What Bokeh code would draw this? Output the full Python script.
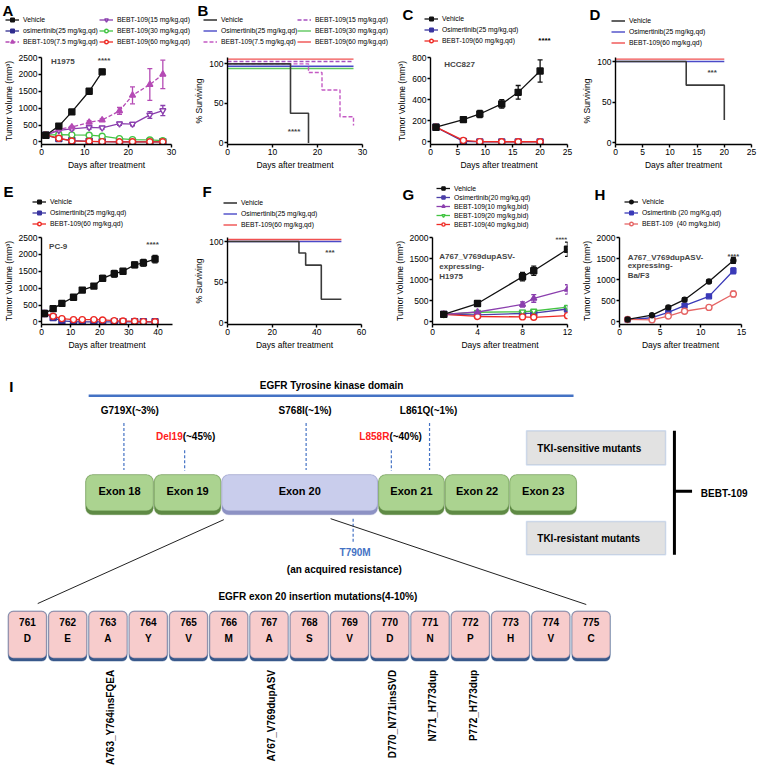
import math
from bokeh.plotting import figure
from bokeh.models import (Range1d, Legend, LegendItem, Whisker, TeeHead,
                          ColumnDataSource, Label, BoxAnnotation, FixedTicker)
from bokeh.layouts import column, row
from bokeh.embed import file_html
from bokeh.resources import INLINE
from bokeh.core.properties import value

FONT = "Liberation Sans"

# ---------------- data ----------------
# Panel A (H1975 tumor volume)
a_days = [1, 4, 7, 11, 14, 18, 21, 25, 28]
a_veh_days = [1, 4, 7, 11, 14]
a_veh = [200, 470, 890, 1500, 2075]
a_veh_err = [0, 30, 40, 80, 70]
a_osi = [200, 100, 40, 20, 10, 5, 5, 5, 5]
a_b75 = [200, 380, 440, 580, 650, 920, 1380, 1700, 2000]
a_b75_err = [0, 20, 30, 40, 30, 100, 250, 470, 420]
a_b15 = [200, 340, 390, 430, 420, 540, 530, 800, 930]
a_b15_err = [0, 30, 40, 50, 40, 50, 50, 100, 150]
a_b30 = [200, 220, 210, 200, 170, 100, 70, 60, 40]
a_b60 = [200, 110, 30, 20, 10, 5, 5, 5, 5]

# Panel B (H1975 survival)
b_veh_t = [0, 14, 18];              b_veh_s = [100, 37.5, 0]
b_osi_t = [0, 28];                  b_osi_s = [97, 97]
b_b75_t = [0, 18, 21, 25, 28];      b_b75_s = [100, 89, 67, 33, 22]
b_b15_t = [0, 28];                  b_b15_s = [103, 103]
b_b30_t = [0, 28];                  b_b30_s = [94, 94]
b_b60_t = [0, 28];                  b_b60_s = [106, 106]

# Panel C (HCC827)
c_days = [1, 6, 9, 13, 16, 20]
c_veh = [140, 212, 265, 360, 470, 672]
c_veh_err = [0, 20, 35, 40, 65, 105]
c_osi = [140, 5, 0, 0, 0, 0]
c_b60 = [140, 15, 3, 2, 2, 2]

# Panel D (HCC827 survival)
d_veh_t = [0, 13, 20];  d_veh_s = [100, 71, 28]
d_osi_t = [0, 20];      d_osi_s = [100, 100]
d_b60_t = [0, 20];      d_b60_s = [103, 103]

# Panel E (PC-9)
e_days = [1, 4, 7, 11, 14, 18, 21, 25, 28, 32, 35, 39]
e_veh = [250, 394, 549, 733, 943, 1062, 1291, 1428, 1500, 1690, 1750, 1860]
e_veh_err = [0, 40, 40, 40, 60, 50, 90, 100, 80, 80, 100, 110]
e_osi = [250, 130, 30, 10, 5, 5, 5, 5, 5, 5, 5, 5]
e_b60 = [250, 170, 100, 70, 70, 70, 60, 40, 30, 20, 10, 5]

# Panel F (PC-9 survival)
f_veh_t = [0, 32, 35, 42, 51];  f_veh_s = [100, 86, 71, 29, 29]
f_osi_t = [0, 51];              f_osi_s = [100, 100]
f_b60_t = [0, 51];              f_b60_s = [102.5, 102.5]

# Panel G (A767_V769dupASV H1975)
g_days = [1, 4, 8, 9, 12]
g_veh = [180, 436, 1071, 1214, 1721]
g_veh_err = [0, 25, 100, 110, 170]
g_osi = [180, 170, 200, 210, 307]
g_b10 = [180, 236, 414, 557, 771]
g_b10_err = [0, 20, 60, 90, 110]
g_b20 = [180, 230, 240, 260, 350]
g_b40 = [180, 130, 120, 110, 150]

# Panel H (A767_V769dupASV Ba/F3)
h_days = [1, 4, 6, 8, 11, 14]
h_veh = [60, 160, 345, 528, 958, 1458]
h_veh_err = [0, 20, 30, 40, 40, 70]
h_osi = [55, 100, 225, 387, 606, 1211]
h_osi_err = [0, 10, 20, 20, 20, 70]
h_b40 = [60, 50, 141, 254, 345, 662]
h_b40_err = [0, 10, 20, 20, 20, 70]

# Panel I (diagram labels)
exon_names = ["Exon 18", "Exon 19", "Exon 20", "Exon 21", "Exon 22", "Exon 23"]
top_mutations = ["G719X(~3%)", "S768I(~1%)", "L861Q(~1%)"]
main_mutations = ["Del19", "L858R"]
main_freq = ["(~45%)", "(~40%)"]
residue_numbers = [str(n) for n in range(761, 776)]
residue_letters = list("DEAYVMASVDNPHVC")
insertions = ["A763_Y764insFQEA", "A767_V769dupASV", "D770_N771insSVD",
              "N771_H773dup", "P772_H773dup"]
insertion_residue = [763, 767, 770, 771, 772]

# ---------------- helpers ----------------
HDR = 47
CH = 182 - HDR
COLX = [0, 191, 382, 573]


def make_header():
    hd = figure(width=766, height=HDR, x_range=Range1d(0, 766), y_range=Range1d(0, HDR),
                output_backend="svg", toolbar_location=None, min_border=0,
                x_axis_location=None, y_axis_location=None)
    hd.grid.visible = False
    hd.outline_line_color = None
    return hd


def make_fig(w, xr, yr, left, right, top, bottom):
    p = figure(width=w, height=CH, x_range=Range1d(*xr), y_range=Range1d(*yr),
               output_backend="svg", toolbar_location=None,
               min_border_left=left, min_border_right=right,
               min_border_top=top, min_border_bottom=bottom)
    p.grid.visible = False
    p.outline_line_color = None
    return p


def style(p, xt, yt, xlabel, ylabel):
    p.xaxis.ticker = FixedTicker(ticks=xt)
    p.yaxis.ticker = FixedTicker(ticks=yt)
    p.xaxis.axis_label = xlabel
    p.yaxis.axis_label = ylabel
    for ax in p.xaxis + p.yaxis:
        ax.axis_line_width = 1.4
        ax.axis_line_color = "black"
        ax.major_tick_line_width = 1.4
        ax.major_tick_line_color = "black"
        ax.major_tick_out = 3
        ax.major_tick_in = 0
        ax.minor_tick_line_color = None
        ax.major_label_text_font = FONT
        ax.major_label_text_font_size = "8.5px"
        ax.major_label_text_color = "black"
        ax.axis_label_text_font = FONT
        ax.axis_label_text_font_size = "8.5px"
        ax.axis_label_text_font_style = "normal"
        ax.axis_label_text_color = "black"
        ax.major_label_standoff = 1
        ax.axis_label_standoff = 2


def series(p, hd, x, y, color, marker, filled, dash="solid", err=None, size=6):
    kw_l = dict(line_color=color, line_width=1.3, line_dash=dash)
    kw_m = dict(marker=marker, size=size, line_color=color,
                fill_color=color if filled else "white", line_width=1.4)
    p.line(x, y, **kw_l)
    p.scatter(x, y, **kw_m)
    if err is not None:
        xs = [a for a, e in zip(x, err) if e > 0]
        lo = [b - e for b, e in zip(y, err) if e > 0]
        hi = [b + e for b, e in zip(y, err) if e > 0]
        src = ColumnDataSource(dict(x=xs, lo=lo, hi=hi))
        p.add_layout(Whisker(source=src, base="x", lower="lo", upper="hi",
                             line_color=color, line_width=1.3,
                             upper_head=TeeHead(size=5, line_color=color, line_width=1.3),
                             lower_head=TeeHead(size=5, line_color=color, line_width=1.3)))
    # legend proxies (kept outside the header's visible range)
    return [hd.line([-99, -98], [-99, -98], **kw_l), hd.scatter([-99], [-99], **kw_m)]


def surv(p, hd, t, s, color, dash="solid", width=1.4):
    kw = dict(line_color=color, line_width=width, line_dash=dash)
    p.step(t, s, mode="after", **kw)
    return [hd.line([-99, -98], [-99, -98], **kw)]


def legend(hd, items, cx, cb, font="6.8px", gh=9, sp=2):
    lg = Legend(items=[LegendItem(label=l, renderers=r) for l, r in items],
                location=(cx, HDR - cb),
                glyph_width=14, glyph_height=gh, label_height=gh,
                label_standoff=4, spacing=sp, padding=0, margin=0,
                border_line_color=None, background_fill_alpha=0,
                label_text_font=FONT, label_text_font_size=font,
                label_text_color="black")
    hd.add_layout(lg)


def htext(hd, cx, cy, text, size="15px", align="left", baseline="top"):
    hd.text(x=[cx], y=[HDR - cy], text=[text], text_font=value(FONT),
            text_font_size=size, text_font_style="bold", text_align=align,
            text_baseline=baseline, text_color="black")


def note(p, x, y, text, size="8px", bold=True, align="left"):
    p.add_layout(Label(x=x, y=y, text=text, text_font=FONT, text_font_size=size,
                       text_font_style="bold" if bold else "normal",
                       text_align=align, text_baseline="middle"))


BLACK = "#111111"
NAVY = "#2f2c8e"
MAG = "#b54bb5"
PURP = "#8b3fae"
GREEN = "#43c443"
RED = "#ee2a24"
TV = "Tumor Volume (mm\u00b3)"
DAYS = "Days after treatment"

h1 = make_header()
h2 = make_header()

# ---------------- Panel A ----------------
ox = COLX[0]
pA = make_fig(191, (0, 30), (-75, 2500), 35, 20, 10, 36)
style(pA, [0, 10, 20, 30], [0, 500, 1000, 1500, 2000, 2500], DAYS, TV)
rA_osi = series(pA, h1, a_days, a_osi, NAVY, "square", True)
rA_b30 = series(pA, h1, a_days, a_b30, GREEN, "circle", False)
rA_b60 = series(pA, h1, a_days, a_b60, RED, "circle", False)
rA_b15 = series(pA, h1, a_days, a_b15, PURP, "inverted_triangle", False, err=a_b15_err)
rA_b75 = series(pA, h1, a_days, a_b75, MAG, "triangle", True, dash="4 2", err=a_b75_err)
rA_veh = series(pA, h1, a_veh_days, a_veh, BLACK, "square", True, err=a_veh_err)
legend(h1, [("Vehicle", rA_veh), ("osimertinib(25 mg/kg,qd)", rA_osi),
            ("BEBT-109(7.5 mg/kg,qd)", rA_b75)], ox + 5, 46)
legend(h1, [("BEBT-109(15 mg/kg,qd)", rA_b15), ("BEBT-109(30 mg/kg,qd)", rA_b30),
            ("BEBT-109(60 mg/kg,qd)", rA_b60)], ox + 99, 46)
htext(h1, ox + 2, 1, "A")
note(pA, 2.2, 2390, "H1975")
note(pA, 13, 2400, "****")

# ---------------- Panel B ----------------
ox = COLX[1]
pB = make_fig(191, (0, 30), (-2, 108), 35, 20, 10, 36)
style(pB, [0, 10, 20, 30], [0, 50, 100], DAYS, "% Surviving")
rB_b30 = surv(pB, h1, b_b30_t, b_b30_s, "#5ec85e")
rB_osi = surv(pB, h1, b_osi_t, b_osi_s, "#4a4ac8")
rB_b15 = surv(pB, h1, b_b15_t, b_b15_s, "#a64fc0", dash="4 2")
rB_b60 = surv(pB, h1, b_b60_t, b_b60_s, "#f05050")
rB_b75 = surv(pB, h1, b_b75_t, b_b75_s, "#c45ac4", dash="4 2")
rB_veh = surv(pB, h1, b_veh_t, b_veh_s, "#3a3a3a", width=1.6)
legend(h1, [("Vehicle", rB_veh), ("Osimertinib(25 mg/kg,qd)", rB_osi),
            ("BEBT-109(7.5 mg/kg,qd)", rB_b75)], ox + 12, 46)
legend(h1, [("BEBT-109(15 mg/kg,qd)", rB_b15), ("BEBT-109(30 mg/kg,qd)", rB_b30),
            ("BEBT-109(60 mg/kg,qd)", rB_b60)], ox + 106, 46)
htext(h1, ox + 6, 1, "B")
note(pB, 13.4, 14, "****")

# ---------------- Panel C ----------------
ox = COLX[2]
pC = make_fig(191, (0, 25), (-24, 800), 48, 6, 6, 38)
style(pC, [0, 5, 10, 15, 20, 25], [0, 200, 400, 600, 800], DAYS, TV)
rC_osi = series(pC, h1, c_days, c_osi, "#3a35a0", "square", True)
rC_b60 = series(pC, h1, c_days, c_b60, RED, "circle", False)
rC_veh = series(pC, h1, c_days, c_veh, BLACK, "square", True, err=c_veh_err)
legend(h1, [("Vehicle", rC_veh), ("Osimertinib(25 mg/kg,qd)", rC_osi),
            ("BEBT-109(60 mg/kg,qd)", rC_b60)], ox + 42, 45)
htext(h1, ox + 20, 5, "C")
htext(h1, ox + 162, 40, "****", size="8px", align="center", baseline="middle")
note(pC, 2.5, 730, "HCC827")

# ---------------- Panel D ----------------
ox = COLX[3]
pD = make_fig(193, (0, 25), (-2, 105), 42, 15, 10, 37)
style(pD, [0, 5, 10, 15, 20, 25], [0, 50, 100], DAYS, "% Surviving")
rD_osi = surv(pD, h1, d_osi_t, d_osi_s, "#4a4ac8")
rD_b60 = surv(pD, h1, d_b60_t, d_b60_s, "#f05050")
rD_veh = surv(pD, h1, d_veh_t, d_veh_s, "#3a3a3a", width=1.6)
legend(h1, [("Vehicle", rD_veh), ("Osimertinib(25 mg/kg,qd)", rD_osi),
            ("BEBT-109(60 mg/kg,qd)", rD_b60)], ox + 38, 47)
htext(h1, ox + 16, 5, "D")
note(pD, 16.9, 86, "***")

# ---------------- Panel E ----------------
ox = COLX[0]
pE = make_fig(191, (0, 45), (-75, 2500), 36, 19, 5, 40)
style(pE, [0, 10, 20, 30, 40], [0, 500, 1000, 1500, 2000, 2500], DAYS, TV)
rE_osi = series(pE, h2, e_days, e_osi, "#3a35a0", "square", True)
rE_b60 = series(pE, h2, e_days, e_b60, RED, "circle", False)
rE_veh = series(pE, h2, e_days, e_veh, BLACK, "square", True, err=e_veh_err)
legend(h2, [("Vehicle", rE_veh), ("Osimertinib(25 mg/kg,qd)", rE_osi),
            ("BEBT-109(60 mg/kg,qd)", rE_b60)], ox + 32, 46)
htext(h2, ox + 3, 0, "E")
note(pE, 2.6, 2220, "PC-9")
note(pE, 36, 2300, "****")

# ---------------- Panel F ----------------
ox = COLX[1]
pF = make_fig(191, (0, 60), (-2, 105), 36, 21, 8, 40)
style(pF, [0, 20, 40, 60], [0, 50, 100], DAYS, "% Surviving")
rF_osi = surv(pF, h2, f_osi_t, f_osi_s, "#4a4ac8")
rF_b60 = surv(pF, h2, f_b60_t, f_b60_s, "#f05050")
rF_veh = surv(pF, h2, f_veh_t, f_veh_s, "#3a3a3a", width=1.6)
legend(h2, [("Vehicle", rF_veh), ("Osimertinib(25 mg/kg,qd)", rF_osi),
            ("BEBT-109(60 mg/kg,qd)", rF_b60)], ox + 32, 47)
htext(h2, ox + 11, 0, "F")
note(pF, 43.8, 86, "***")

# ---------------- Panel G ----------------
ox = COLX[2]
pG = make_fig(191, (0, 12), (-60, 2000), 50, 6, 5, 40)
style(pG, [0, 4, 8, 12], [0, 500, 1000, 1500, 2000], DAYS, TV)
rG_osi = series(pG, h2, g_days, g_osi, "#4b3fa8", "square", True)
rG_b20 = series(pG, h2, g_days, g_b20, GREEN, "inverted_triangle", False)
rG_b40 = series(pG, h2, g_days, g_b40, RED, "circle", False)
rG_b10 = series(pG, h2, g_days, g_b10, PURP, "triangle", True, err=g_b10_err)
rG_veh = series(pG, h2, g_days, g_veh, BLACK, "square", True, err=g_veh_err)
legend(h2, [("Vehicle", rG_veh), ("Osimertinib(20 mg/kg,qd)", rG_osi),
            ("BEBT-109(10 mg/kg,bid)", rG_b10), ("BEBT-109(20 mg/kg,bid)", rG_b20),
            ("BEBT-109(40 mg/kg,bid)", rG_b40)], ox + 54, 46, gh=8, sp=1)
htext(h2, ox + 20, 3, "G")
note(pG, 0.6, 1556, "A767_V769dupASV-")
note(pG, 0.6, 1321, "expressing-")
note(pG, 0.6, 1085, "H1975")
note(pG, 11.45, 1960, "****", size="7.5px", align="center")

# ---------------- Panel H ----------------
ox = COLX[3]
pH = make_fig(193, (0, 15), (-60, 2000), 46, 25, 5, 39)
style(pH, [0, 5, 10, 15], [0, 500, 1000, 1500, 2000], DAYS, TV)
rH_osi = series(pH, h2, h_days, h_osi, "#3a3ab8", "square", True, err=h_osi_err, size=5)
rH_b40 = series(pH, h2, h_days, h_b40, "#e56565", "circle", False, err=h_b40_err)
rH_veh = series(pH, h2, h_days, h_veh, BLACK, "circle", True, err=h_veh_err, size=5)
legend(h2, [("Vehicle", rH_veh), ("Osimertinib (20 mg/Kg,qd)", rH_osi),
            ("BEBT-109  (40 mg/kg,bid)", rH_b40)], ox + 51, 46)
htext(h2, ox + 21, 3, "H")
note(pH, 1.0, 1528, "A767_V769dupASV-")
note(pH, 1.0, 1331, "expressing-")
note(pH, 1.0, 1107, "Ba/F3")
note(pH, 14.0, 1560, "****", size="7.5px", align="center")

# ---------------- Panel I (diagram) ----------------
pI = figure(width=766, height=402, x_range=Range1d(0, 782), y_range=Range1d(0, 412),
            output_backend="svg", toolbar_location=None, min_border=0,
            x_axis_location=None, y_axis_location=None)
pI.grid.visible = False
pI.outline_line_color = None


def Y(v):
    return 782 - v


def txt(xs, ys, texts, size="10px", color="black", align="center", angle=0.0):
    pI.text(x=xs, y=[Y(v) for v in ys], text=texts, text_font=value(FONT),
            text_font_size=size, text_font_style="bold", text_color=color,
            text_align=align, text_baseline="middle", angle=angle)


def box(l, r, t, b, fill, line, radius, width=1.2):
    pI.add_layout(BoxAnnotation(left=l, right=r, top=Y(t), bottom=Y(b),
                                fill_color=fill, fill_alpha=1.0, line_color=line,
                                line_width=width, border_radius=radius,
                                level="underlay"))


BLUE = "#4472c4"
txt([9], [393], ["I"], size="15px", align="left")
pI.segment(x0=[90], y0=[Y(402)], x1=[585], y1=[Y(402)], line_color=BLUE, line_width=2.5)
txt([338], [392], ["EGFR Tyrosine kinase domain"])

# mutation labels and dashed connectors
txt([132, 311, 437], [417] * 3, top_mutations)
pI.segment(x0=[126, 312, 438], y0=[Y(430)] * 3, x1=[126, 312, 438], y1=[Y(478)] * 3,
           line_color=BLUE, line_width=1.2, line_dash="3 2")
txt([186, 397], [444, 444], main_mutations, color="#ff2020", align="right")
txt([186, 397], [444, 444], main_freq, align="left")
pI.segment(x0=[188, 399], y0=[Y(458)] * 2, x1=[188, 399], y1=[Y(479)] * 2,
           line_color=BLUE, line_width=1.2, line_dash="3 2")

# exons
ex_l = [87, 157, 226, 386, 454, 520]
ex_r = [156, 225, 385, 453, 519, 588]
for i, name in enumerate(exon_names):
    if name == "Exon 20":
        fill, shade, edge = "#c9cdec", "#8d92c4", "#8d92c4"
    else:
        fill, shade, edge = "#abd390", "#5f8a45", "#5f8a45"
    box(ex_l[i], ex_r[i], 483, 524, shade, shade, 7)
    box(ex_l[i], ex_r[i], 483, 520, fill, edge, 7)
txt([(a + b) / 2 for a, b in zip(ex_l, ex_r)], [500] * 6, exon_names, size="11px")

# T790M
pI.segment(x0=[360], y0=[Y(528)], x1=[360], y1=[Y(553)], line_color=BLUE,
           line_width=1.2, line_dash="3 2")
txt([362], [563], ["T790M"], color=BLUE)
txt([351], [580], ["(an acquired resistance)"])

# zoom lines
pI.segment(x0=[228, 337], y0=[Y(529), Y(528)], x1=[38, 598], y1=[Y(615), Y(616)],
           line_color="#222222", line_width=1)
txt([324], [608], ["EGFR exon 20 insertion mutations(4-10%)"])

# residue boxes
pitch, bw, x0 = 41.1, 39, 8
centers = []
for i in range(len(residue_numbers)):
    l = x0 + i * pitch
    centers.append(l + bw / 2)
    box(l, l + bw, 623, 674, "#3a5a8c", "#2e4f84", 5)
    box(l, l + bw, 623, 671, "#f7cccc", "#2e4f84", 5, width=1.5)
txt(centers, [634] * 15, residue_numbers)
txt(centers, [651] * 15, residue_letters)

ins_x = [centers[r - 761] + 3 for r in insertion_residue]
txt(ins_x, [683] * len(insertions), insertions, align="right", angle=math.pi / 2)

# TKI boxes and bracket
box(537, 679, 438, 473, "#e2e2e2", "#7a9fd8", 0, width=1.5)
box(537, 679, 531, 565, "#e2e2e2", "#7a9fd8", 0, width=1.5)
txt([548, 548], [456, 548], ["TKI-sensitive mutants", "TKI-resistant mutants"], align="left")
pI.segment(x0=[688, 688], y0=[Y(438), Y(500)], x1=[688, 706], y1=[Y(565), Y(500)],
           line_color="black", line_width=3)
txt([715], [502], ["BEBT-109"], align="left")

layout = column(
    h1, row(pA, pB, pC, pD),
    h2, row(pE, pF, pG, pH),
    pI)
open("out.html", "w").write(file_html(layout, INLINE))
